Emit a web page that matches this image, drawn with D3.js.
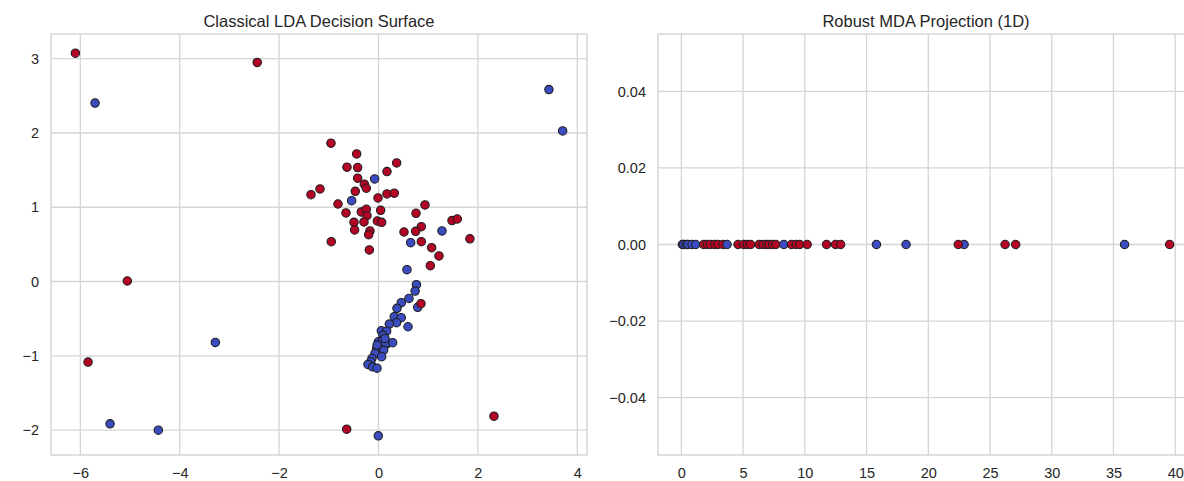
<!DOCTYPE html>
<html>
<head>
<meta charset="utf-8">
<script src="https://cdn.jsdelivr.net/npm/d3@7"></script>
<style>
    body { margin: 0; background: #fff; }
    svg { display: block; font-family: "Liberation Sans", Arial, sans-serif; }
</style>
</head>
<body>
<div id="chart"></div>
<script>
// LDA 2D projection (label 0 = blue, 1 = red), drawn in this order
var ldaX = [-5.704, 3.43, 3.706, -3.283, -5.402, -4.43, -0.004,
    -0.077, -0.54, 1.278, 0.648, 0.573, 0.764, 0.737, 0.614, 0.459, 0.372, 0.789,
    0.318, 0.458, 0.363, 0.218, 0.594, 0.057, 0.164, 0.09, -0.003, 0.084, 0.18, 0.285,
    0.131, -0.036, 0.104, -0.07, 0.064, -0.131, -0.157, -0.211, -0.117, -0.03, -0.027, 0.131,
    -6.10, -2.44, -5.054, -5.845, -0.64, 2.324,
    -0.956, -0.439, -0.634, -0.419, 0.366, 0.171, -0.419, -0.285, -0.245, -0.467, -1.177,
    -1.358, 0.171, 0.318, -0.01, -0.815, -0.654, -0.346, -0.245, -0.231, 0.044, -0.292,
    -0.493, -0.48, -0.024, 0.064, -0.171, -0.198, -0.95, -0.184, 0.936, 0.755, 0.862,
    0.748, 0.513, 0.862, 1.07, 1.217, 1.043, 1.479, 1.586, 1.84, 0.855];
var ldaY = [2.402, 2.585, 2.028, -0.82, -1.916, -2.001, -2.078,
    1.381, 1.089, 0.681, 0.523, 0.159, -0.043, -0.128, -0.227, -0.285, -0.361, -0.348,
    -0.474, -0.487, -0.555, -0.573, -0.609, -0.663, -0.668, -0.725, -0.811, -0.788, -0.833, -0.824,
    -0.856, -0.9, -0.923, -0.968, -1.013, -1.035, -1.08, -1.116, -1.148, -1.166, -0.856, -0.766,
    3.075, 2.95, 0.007, -1.085, -1.988, -1.813,
    1.862, 1.718, 1.539, 1.535, 1.597, 1.48, 1.391, 1.31, 1.256, 1.215, 1.247,
    1.17, 1.18, 1.189, 1.125, 1.044, 0.923, 0.937, 0.973, 0.887, 0.959, 0.802,
    0.797, 0.694, 0.815, 0.797, 0.681, 0.631, 0.537, 0.425, 1.031, 0.919, 0.739,
    0.676, 0.667, 0.537, 0.456, 0.344, 0.213, 0.82, 0.842, 0.575, -0.299];
var ldaLabel = ldaX.map(function(d, i) { return i < 42 ? 0 : 1; });

// Robust MDA 1D projection, drawn in this order
var mdaValue = [0.08, 0.19, 0.4, 0.54, 0.86, 1.16,
    1.81, 2.1, 2.35, 2.7, 2.97, 3.38, 3.7,
    4.59, 5.05, 5.35, 5.6, 6.3, 6.62, 6.9, 7.11, 7.4, 7.65, 8.3,
    8.92, 9.3, 9.59, 10.19, 11.76, 12.49, 12.9,
    15.8, 18.2, 22.9, 22.43, 26.22, 27.08, 35.9, 39.55];
var mdaLabel = [0, 0, 0, 0, 0, 0,
    1, 1, 1, 1, 1, 1, 0,
    1, 1, 1, 1, 1, 1, 1, 1, 1, 1, 0,
    1, 1, 1, 1, 1, 1, 1,
    0, 0, 0, 1, 1, 1, 0, 1];

var ldaXTicks = [-6, -4, -2, 0, 2, 4];
var ldaYTicks = [-2, -1, 0, 1, 2, 3];
var mdaXTicks = [0, 5, 10, 15, 20, 25, 30, 35, 40];
var mdaYTicks = [-0.04, -0.02, 0, 0.02, 0.04];

var titles = ["Classical LDA Decision Surface", "Robust MDA Projection (1D)"];
var classColors = ["#3b4cc0", "#b40426"];

var width = 1184,
    height = 481;

var svg = d3.select("#chart")
    .append("svg")
    .attr("width", width)
    .attr("height", height);

svg.append("rect")
    .attr("width", width)
    .attr("height", height)
    .attr("fill", "#fff");

function padded(vals) {
    var ext = d3.extent(vals),
        m = (ext[1] - ext[0]) * 0.05;
    return [ext[0] - m, ext[1] + m];
}

var fmtMinus = function(f) {
    return function(d) { return f(d).replace("-", "\u2212"); };
};

function drawPanel(left, top, w, h, xDomain, yDomain, xTicks, yTicks, yFmt, title) {
    var g = svg.append("g").attr("transform", "translate(" + left + "," + top + ")");
    var x = d3.scaleLinear().domain(xDomain).range([0, w]);
    var y = d3.scaleLinear().domain(yDomain).range([h, 0]);

    // grid
    g.append("g")
        .selectAll("line.vx")
        .data(xTicks)
        .enter()
        .append("line")
        .attr("x1", function(d) { return x(d); })
        .attr("x2", function(d) { return x(d); })
        .attr("y1", 0)
        .attr("y2", h)
        .style("stroke", "#d5d5d5")
        .style("stroke-width", 1.3);

    g.append("g")
        .selectAll("line.hy")
        .data(yTicks)
        .enter()
        .append("line")
        .attr("x1", 0)
        .attr("x2", w)
        .attr("y1", function(d) { return y(d); })
        .attr("y2", function(d) { return y(d); })
        .style("stroke", "#d5d5d5")
        .style("stroke-width", 1.3);

    g.append("rect")
        .attr("width", w)
        .attr("height", h)
        .style("fill", "none")
        .style("stroke", "#d0d0d0")
        .style("stroke-width", 1.3);

    var xAxis = g.append("g")
        .attr("transform", "translate(0," + h + ")")
        .call(d3.axisBottom(x).tickValues(xTicks).tickSize(0).tickPadding(13)
            .tickFormat(fmtMinus(d3.format("d"))));
    var yAxis = g.append("g")
        .call(d3.axisLeft(y).tickValues(yTicks).tickSize(0).tickPadding(12)
            .tickFormat(fmtMinus(yFmt)));

    [xAxis, yAxis].forEach(function(a) {
        a.select(".domain").remove();
        a.selectAll("text")
            .style("font-size", "14.5px")
            .style("fill", "#262626");
    });

    g.append("text")
        .attr("x", w / 2)
        .attr("y", -7.5)
        .attr("text-anchor", "middle")
        .style("font-size", "16.5px")
        .style("fill", "#262626")
        .text(title);

    return { g: g, x: x, y: y };
}

var p1 = drawPanel(51, 34, 536, 421, padded(ldaX), padded(ldaY),
    ldaXTicks, ldaYTicks, d3.format("d"), titles[0]);

p1.g.append("g")
    .selectAll("circle")
    .data(ldaX)
    .enter()
    .append("circle")
    .attr("cx", function(d) { return p1.x(d); })
    .attr("cy", function(d, i) { return p1.y(ldaY[i]); })
    .attr("r", 4.2)
    .style("fill", function(d, i) { return classColors[ldaLabel[i]]; })
    .style("stroke", "#1e1e1e")
    .style("stroke-width", 1.1);

var p2 = drawPanel(658, 34, 536, 421, padded(mdaValue), [-0.055, 0.055],
    mdaXTicks, mdaYTicks, d3.format(".2f"), titles[1]);

p2.g.append("g")
    .selectAll("circle")
    .data(mdaValue)
    .enter()
    .append("circle")
    .attr("cx", function(d) { return p2.x(d); })
    .attr("cy", p2.y(0))
    .attr("r", 4.2)
    .style("fill", function(d, i) { return classColors[mdaLabel[i]]; })
    .style("stroke", "#1e1e1e")
    .style("stroke-width", 1.1);
</script>
</body>
</html>
